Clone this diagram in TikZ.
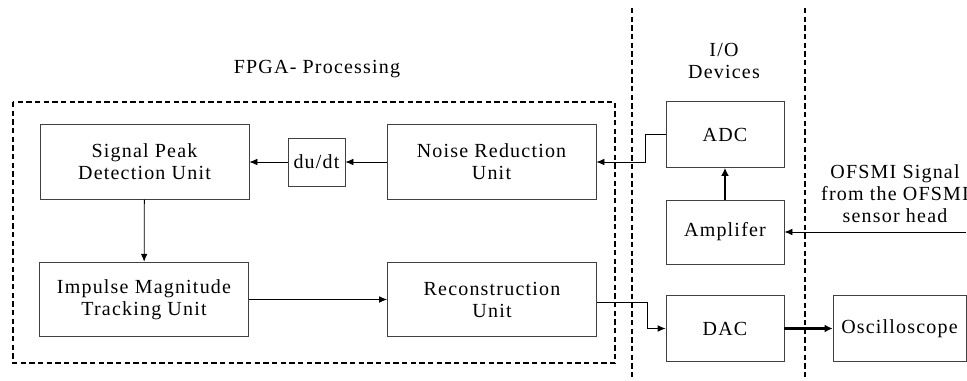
\documentclass[tikz,border=0pt]{standalone}
\usepackage{fontspec}
\setmainfont{Liberation Serif}[LetterSpace=6]
\usetikzlibrary{arrows.meta}

\begin{document}
\begin{tikzpicture}[x=0.75pt,y=0.75pt]
		\tikzstyle{every node}+=[inner sep=0pt, align=center, font=\fontsize{15}{16.5}\selectfont]
		\tikzstyle{blk}=[draw=black!75, line width=0.6pt, minimum height=56pt]
		\tikzstyle{wide}=[blk, minimum width=156.75pt]
		\tikzstyle{dev}=[blk, minimum width=88.5pt, minimum height=49.5pt]
		\tikzstyle{flow}=[-{Latex[length=6pt,width=5pt]}, line width=0.6pt]
		\tikzstyle{thick flow}=[-{Latex[length=6pt,width=6pt]}, line width=1.8pt]
		\tikzstyle{zone}=[dash pattern=on 4pt off 2.5pt, line width=1pt]
		\useasboundingbox (0,0) rectangle (967,-381);
		% FPGA part
		\draw [zone] (13,-102) rectangle (615,-363);
		\node (fpga) at (317,-69) {FPGA- Processing};
		\node [wide] (peak) at (144.5,-162) {Signal Peak\\Detection Unit};
		\node [blk, minimum width=42.75pt, minimum height=36pt] (dudt) at (316.5,-162) {du/dt};
		\node [wide] (noise) at (491.5,-162) {Noise Reduction\\Unit};
		\node [wide] (impulse) at (144,-299.5) {Impulse Magnitude\\Tracking Unit};
		\node [wide] (recon) at (492,-299.5) {Reconstruction\\Unit};
		% I/O part
		\draw [zone] (632,-8) -- (632,-381);
		\draw [zone] (805,-8) -- (805,-381);
		\node (io) at (724,-61) {I/O\\Devices};
		\node [dev] (adc) at (725,-134.5) {ADC};
		\node [dev, minimum height=48pt] (amp) at (725,-232) {Amplifer};
		\node [dev] (dac) at (725,-328.5) {DAC};
		\node [dev, minimum width=99.75pt] (osc) at (899.5,-328.5) {Oscilloscope};
		\node (ofsmi) at (895,-194) {OFSMI Signal\\from the OFSMI\\sensor head};
		\coordinate (src) at (966,-232);
		% connections
		\draw [flow] (noise) -- (dudt);
		\draw [flow] (dudt) -- (peak);
		\draw [flow] (peak) -- (impulse);
		\draw [flow] (impulse) -- (recon);
		\draw [flow] (adc.west) -- ++(-20,0) |- (noise.east);
		\draw [flow] ([yshift=-2.5pt]recon.east) -- ++(50,0) |- (dac.west);
		\draw [thick flow] (amp) -- (adc);
		\draw [flow] (src) -- (amp.east);
		\draw [thick flow] (dac) -- (osc);
\end{tikzpicture}
\end{document}
